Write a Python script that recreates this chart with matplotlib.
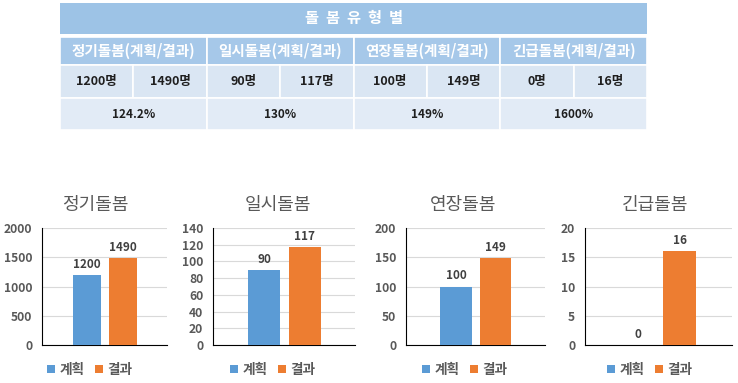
import matplotlib
matplotlib.use("Agg")
import matplotlib.pyplot as plt
from matplotlib.patches import Rectangle

plt.rcParams['font.family'] = ['Noto Sans CJK KR', 'DejaVu Sans']

# data
care_types = ['정기돌봄', '일시돌봄', '연장돌봄', '긴급돌봄']
plan = [1200, 90, 100, 0]
result = [1490, 117, 149, 16]
rates = ['124.2%', '130%', '149%', '1600%']
y_max = [2000, 140, 200, 20]
y_step = [500, 20, 50, 5]
series_names = ['계획', '결과']
table_title = '돌봄유형별'

BLUE = '#5B9BD5'
ORANGE = '#ED7D31'
GRAY = '#595959'

W, H = 738, 383
fig = plt.figure(figsize=(W / 100, H / 100), dpi=100)

# ---- summary table at the top (drawn in pixel space) ----
tab = fig.add_axes([0, 0, 1, 1])
tab.set_xlim(0, W)
tab.set_ylim(H, 0)
tab.axis('off')

x0, x1 = 60, 647
colw = (x1 - x0) / 4
rows = [(3, 34), (37, 65), (65, 98), (98, 130)]
row_colors = ['#9DC3E6', '#A6C8E9', '#DAE6F3', '#E2EBF6']

tab.add_patch(Rectangle((x0, rows[0][0]), x1 - x0, rows[0][1] - rows[0][0],
                        facecolor=row_colors[0], edgecolor='none'))
# spaced-out title letters
n = len(table_title)
for k, ch in enumerate(table_title):
    tab.text((x0 + x1) / 2 + (k - (n - 1) / 2) * 21, sum(rows[0]) / 2, ch,
             color='white', fontsize=11, fontweight='bold', ha='center', va='center')

for i, name in enumerate(care_types):
    cx = x0 + i * colw
    # header
    tab.add_patch(Rectangle((cx, rows[1][0]), colw, rows[1][1] - rows[1][0],
                            facecolor=row_colors[1], edgecolor='white', lw=1.2))
    tab.text(cx + colw / 2, sum(rows[1]) / 2, f'{name}(계획/결과)', color='white',
             fontsize=10.5, fontweight='bold', ha='center', va='center')
    # plan / result
    for j, v in enumerate([plan[i], result[i]]):
        sx = cx + j * colw / 2
        tab.add_patch(Rectangle((sx, rows[2][0]), colw / 2, rows[2][1] - rows[2][0],
                                facecolor=row_colors[2], edgecolor='white', lw=1.2))
        tab.text(sx + colw / 4, sum(rows[2]) / 2, f'{v}명', color='#1F1F1F',
                 fontsize=9, fontweight='bold', ha='center', va='center')
    # rate
    tab.add_patch(Rectangle((cx, rows[3][0]), colw, rows[3][1] - rows[3][0],
                            facecolor=row_colors[3], edgecolor='white', lw=1.2))
    tab.text(cx + colw / 2, sum(rows[3]) / 2, rates[i], color='#1F1F1F',
             fontsize=8.5, fontweight='bold', ha='center', va='center')

# ---- four small bar charts ----
axes_px = [(42, 167), (213, 355), (406, 545), (585, 732)]
title_x = [95, 278, 463, 655]
legend_x = [90, 273, 465, 650]
ax_top, ax_bot = 228, 345

for i, name in enumerate(care_types):
    l, r = axes_px[i]
    ax = fig.add_axes([l / W, 1 - ax_bot / H, (r - l) / W, (ax_bot - ax_top) / H])
    bw = 0.225
    b1 = ax.bar(0.36, plan[i], width=bw, color=BLUE, label=series_names[0], zorder=3)
    b2 = ax.bar(0.645, result[i], width=bw, color=ORANGE, label=series_names[1], zorder=3)
    ax.bar_label(b1, padding=3, fontsize=8.4, fontweight='bold', color='#404040')
    ax.bar_label(b2, padding=3, fontsize=8.4, fontweight='bold', color='#404040')
    ax.set_xlim(0, 1)
    ax.set_ylim(0, y_max[i])
    ax.set_yticks(range(0, y_max[i] + 1, y_step[i]))
    ax.set_xticks([])
    ax.tick_params(axis='y', length=0, pad=7, labelsize=8.7, labelcolor=GRAY)
    for t in ax.get_yticklabels():
        t.set_fontweight('bold')
    ax.grid(axis='y', color='#D9D9D9', lw=0.8, zorder=0)
    for s in ['top', 'right']:
        ax.spines[s].set_visible(False)
    ax.spines['left'].set_color('black')
    ax.spines['bottom'].set_color('black')
    ax.set_facecolor('none')

    fig.text(title_x[i] / W, 1 - 205 / H, name, fontsize=13, fontweight='medium',
             color=GRAY, ha='center', va='center')
    fig.legend(handles=[b1, b2], loc='center', frameon=False, ncol=2,
               bbox_to_anchor=(legend_x[i] / W, 1 - 370 / H),
               handlelength=0.55, handleheight=0.55, handletextpad=0.35,
               columnspacing=0.8, prop={'size': 9.8, 'weight': 'bold'},
               labelcolor=GRAY)

fig.savefig('out.png', dpi=100)
